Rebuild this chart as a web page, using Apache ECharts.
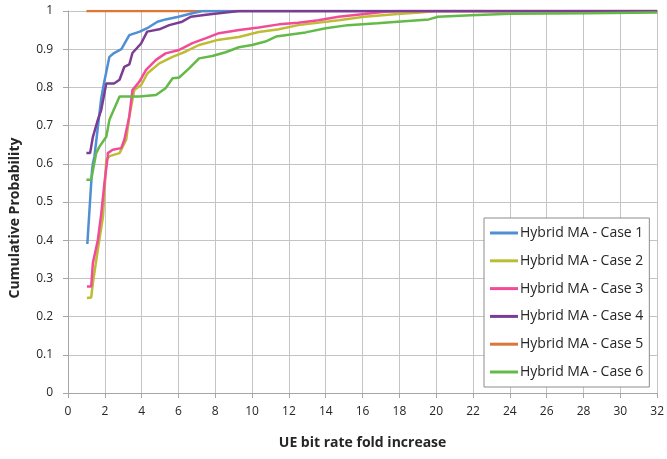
<!DOCTYPE html>
<html>
<head>
<meta charset="utf-8">
<script src="https://cdn.jsdelivr.net/npm/echarts@6/dist/echarts.min.js"></script>
<style>
  html, body { margin: 0; padding: 0; background: #fff; }
  #chart { width: 667px; height: 459px; }
</style>
</head>
<body>
<div id="chart"></div>
<script>
  // [fold increase, cumulative probability]
  var case1 = [[1.05,0.39],[1.3,0.58],[1.35,0.6],[1.44,0.62],[1.8,0.77],[1.95,0.81],[2.25,0.88],[2.5,0.89],[2.9,0.9],[3.33,0.937],[3.9,0.946],[4.3,0.955],[4.86,0.972],[5.3,0.978],[6.0,0.985],[6.75,0.994],[7.3,1.0],[32,1.0]];
  var case2 = [[1.03,0.249],[1.26,0.25],[1.35,0.288],[1.62,0.375],[1.9,0.462],[2.08,0.61],[2.25,0.62],[2.8,0.628],[2.9,0.63],[3.16,0.663],[3.33,0.724],[3.6,0.793],[3.97,0.806],[4.32,0.837],[4.96,0.863],[5.68,0.88],[6.4,0.894],[7.12,0.911],[8.2,0.925],[9.28,0.932],[10.36,0.945],[11.45,0.952],[12.5,0.963],[14.7,0.976],[16.1,0.985],[17.9,0.992],[19.1,0.996],[20,1.0],[32,1.0]];
  var case3 = [[1.03,0.279],[1.26,0.279],[1.35,0.34],[1.62,0.4],[1.8,0.467],[1.98,0.55],[2.16,0.62],[2.16,0.628],[2.43,0.637],[2.89,0.641],[3.06,0.663],[3.33,0.724],[3.5,0.793],[3.88,0.815],[4.24,0.846],[4.78,0.872],[5.3,0.889],[6.04,0.898],[6.76,0.916],[7.5,0.929],[8.2,0.942],[9.3,0.95],[10.36,0.957],[11.46,0.965],[12.5,0.969],[13.6,0.976],[14.7,0.985],[16.1,0.992],[17.2,0.998],[18,1.0],[32,1.0]];
  var case4 = [[1.0,0.628],[1.2,0.628],[1.35,0.67],[1.62,0.715],[1.8,0.74],[2.08,0.81],[2.5,0.81],[2.8,0.82],[3.06,0.854],[3.33,0.86],[3.5,0.89],[3.97,0.915],[4.3,0.946],[4.96,0.952],[5.5,0.963],[6.2,0.972],[6.67,0.985],[7.5,0.99],[8.56,0.996],[9.3,1.0],[32,1.0]];
  var case5 = [[1.0,1.0],[32,1.0]];
  var case6 = [[1.0,0.558],[1.26,0.558],[1.53,0.628],[1.71,0.645],[2.08,0.671],[2.25,0.715],[2.8,0.776],[3.88,0.776],[4.78,0.78],[5.3,0.798],[5.68,0.824],[6.04,0.826],[6.58,0.85],[7.12,0.876],[7.84,0.882],[8.56,0.892],[9.28,0.905],[10.0,0.911],[10.72,0.92],[11.3,0.933],[12.9,0.944],[14.0,0.955],[15.2,0.963],[16.8,0.968],[17.9,0.972],[19.6,0.978],[20.1,0.985],[21.9,0.989],[24,0.993],[28.2,0.994],[32,0.996]];

  var seriesNames = ['Hybrid MA - Case 1','Hybrid MA - Case 2','Hybrid MA - Case 3','Hybrid MA - Case 4','Hybrid MA - Case 5','Hybrid MA - Case 6'];
  var seriesData = [case1, case2, case3, case4, case5, case6];
  var colors = ['#4f8fd4','#bdbd35','#f24c98','#7b3c93','#dc773a','#64ba48'];

  var font = 'Open Sans';
  var myChart = echarts.init(document.getElementById('chart'));
  var option = {
    backgroundColor: '#fff',
    animation: false,
    color: colors,
    grid: { left: 68, right: 7, top: 11, bottom: 66 },
    legend: {
      orient: 'vertical',
      left: 484,
      top: 218,
      padding: [8, 6, 8, 6],
      itemGap: 13.8,
      itemWidth: 28,
      itemHeight: 3,
      icon: 'rect',
      borderColor: '#8c8c8c',
      borderWidth: 1,
      backgroundColor: '#fff',
      textStyle: { fontFamily: font, fontSize: 14, color: '#262626', padding: [0, 0, 0, -3] },
      data: seriesNames
    },
    xAxis: {
      type: 'value',
      min: 0,
      max: 32,
      interval: 2,
      name: 'UE bit rate fold increase',
      nameLocation: 'middle',
      nameGap: 43,
      nameTextStyle: { fontFamily: font, fontSize: 14, fontWeight: 'bold', color: '#262626' },
      axisLine: { lineStyle: { color: '#a6a6a6' } },
      axisTick: { show: true, length: 5, lineStyle: { color: '#a6a6a6' } },
      axisLabel: { fontFamily: font, fontSize: 12, color: '#262626', margin: 13 },
      splitLine: { show: true, lineStyle: { color: '#c4c4c4', width: 1 } }
    },
    yAxis: {
      type: 'value',
      min: 0,
      max: 1,
      interval: 0.1,
      axisLine: { show: true, lineStyle: { color: '#a6a6a6' } },
      axisTick: { show: true, length: 5, lineStyle: { color: '#a6a6a6' } },
      axisLabel: { fontFamily: font, fontSize: 12, color: '#262626', margin: 15 },
      splitLine: { show: true, lineStyle: { color: '#c4c4c4', width: 1 } }
    },
    graphic: [{
      type: 'text',
      x: 15,
      y: 218,
      rotation: Math.PI / 2,
      style: {
        text: 'Cumulative Probability',
        fontFamily: font,
        fontSize: 14,
        fontWeight: 'bold',
        fill: '#262626',
        textAlign: 'center',
        textVerticalAlign: 'middle'
      }
    }],
    series: seriesNames.map(function (name, i) {
      return {
        name: name,
        type: 'line',
        data: seriesData[i],
        showSymbol: false,
        symbol: 'none',
        lineStyle: { width: 2.5, color: colors[i] },
        z: i === 4 ? 1 : 2 + i
      };
    })
  };
  myChart.setOption(option);
</script>
</body>
</html>
